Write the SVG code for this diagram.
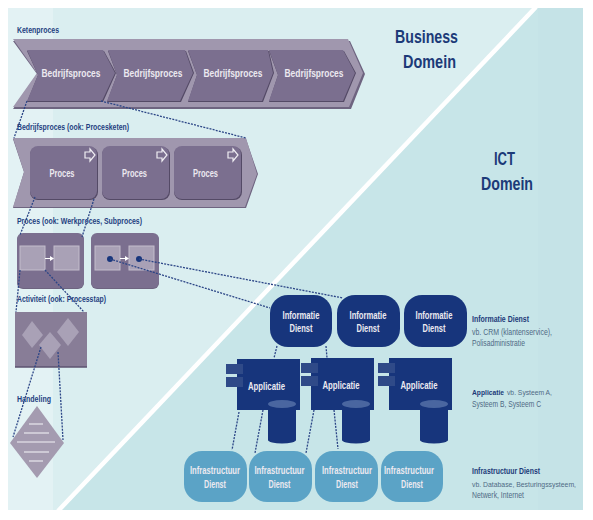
<svg xmlns="http://www.w3.org/2000/svg" width="593" height="520" viewBox="0 0 593 520">
<style>
text{font-family:"Liberation Sans",Arial,sans-serif}
.w{fill:#ece9f0;font-weight:bold;font-size:10px;text-anchor:middle}
.h{fill:#1f3f80;font-weight:bold;font-size:9px}
.d{fill:#1c3a78;font-size:18px;font-weight:bold;text-anchor:middle}
.t{fill:#1c3a78;font-weight:bold;font-size:9px}
.g{fill:#4f6a85;font-size:9px}
.band{fill:#a097ae}
.edge{fill:#6e6480}
.chev{fill:#7b6f8f}
.shade{fill:#544a66}
.card{fill:#7b6f8f}
.sq{fill:#a9a1b6;stroke:#c3bdcc;stroke-width:1}
.dia{fill:#a9a1b6}
.info{fill:#17357c}
.app{fill:#17357c}
.tab{fill:#2f4a88}
.infra{fill:#5ba3c6}
.ico{fill:none;stroke:#f0eef3;stroke-width:1.2}
.c{fill:none;stroke:#2b4586;stroke-width:1.3;stroke-dasharray:2 1.2}
.l{stroke:#d9d5df;stroke-width:1.6}
</style>
<rect width="593" height="520" fill="#fff"/>
<g id="background">
<rect x="8" y="8" width="575" height="502" fill="#c7e5e8"/>
<rect x="538" y="8" width="45" height="502" fill="#c5e3e7"/>
<polygon points="8,8 535,8 58,510 8,510" fill="#daeef0"/>
<rect x="8" y="8" width="45" height="502" fill="#e3f2f4"/>
<line x1="536" y1="7" x2="58" y2="511" stroke="#fff" stroke-width="4.5"/>
</g>
<g id="domain-labels">
<text class="d" x="426.500" y="43" textLength="63" lengthAdjust="spacingAndGlyphs">Business</text>
<text class="d" x="429.500" y="68" textLength="53" lengthAdjust="spacingAndGlyphs">Domein</text>
<text class="d" x="504.500" y="165" textLength="21" lengthAdjust="spacingAndGlyphs">ICT</text>
<text class="d" x="507" y="190" textLength="52" lengthAdjust="spacingAndGlyphs">Domein</text>
</g>
<g id="ketenproces">
<text class="h" x="17" y="33" textLength="42" lengthAdjust="spacingAndGlyphs">Ketenproces</text>
<polygon class="edge" points="13,41 350,41 365,74 351,109 13,109 37,74"/>
<polygon class="band" points="13,39 348,39 363,73 349,107 13,107 37,73"/>
<g id="bp1"><polygon class="shade" points="27,51 104,51 116,73 103,102 27,102 38,75"/><polygon class="chev" points="27,50 103,50 115,73 102,101 27,101 38,75"/><text class="w" x="71" y="77" textLength="59" lengthAdjust="spacingAndGlyphs">Bedrijfsproces</text></g>
<g id="bp2"><polygon class="shade" points="108,51 186,51 194,73 181,102 107,102 117,75"/><polygon class="chev" points="108,50 185,50 193,73 180,101 107,101 117,75"/><text class="w" x="153" y="77" textLength="59" lengthAdjust="spacingAndGlyphs">Bedrijfsproces</text></g>
<g id="bp3"><polygon class="shade" points="188,51 269,51 274,73 263,102 188,102 197,75"/><polygon class="chev" points="188,50 268,50 273,73 262,101 188,101 197,75"/><text class="w" x="233" y="77" textLength="59" lengthAdjust="spacingAndGlyphs">Bedrijfsproces</text></g>
<g id="bp4"><polygon class="shade" points="269,51 344,51 356,73 344,102 269,102 278,75"/><polygon class="chev" points="269,50 343,50 355,73 343,101 269,101 278,75"/><text class="w" x="314" y="77" textLength="59" lengthAdjust="spacingAndGlyphs">Bedrijfsproces</text></g>
</g>
<g id="bedrijfsproces">
<text class="h" x="17" y="130" textLength="112" lengthAdjust="spacingAndGlyphs">Bedrijfsproces (ook: Procesketen)</text>
<polygon class="edge" points="13,139 246,139 258,174 246,208 13,208 24,172"/>
<polygon class="band" points="13,138 246,138 257,174 245,207 13,207 24,172"/>
<g id="proces1"><rect class="shade" x="30" y="147" width="68" height="53" rx="8"/><rect class="card" x="30" y="146" width="67" height="53" rx="8"/><path class="ico" d="M85,152h5v-3l5,6l-5,6v-3h-5z"/><text class="w" x="62" y="177" textLength="25" lengthAdjust="spacingAndGlyphs">Proces</text></g>
<g id="proces2"><rect class="shade" x="102" y="147" width="68" height="53" rx="8"/><rect class="card" x="102" y="146" width="67" height="53" rx="8"/><path class="ico" d="M157,152h5v-3l5,6l-5,6v-3h-5z"/><text class="w" x="134.500" y="177" textLength="25" lengthAdjust="spacingAndGlyphs">Proces</text></g>
<g id="proces3"><rect class="shade" x="174" y="147" width="68" height="53" rx="8"/><rect class="card" x="174" y="146" width="67" height="53" rx="8"/><path class="ico" d="M228,152h5v-3l5,6l-5,6v-3h-5z"/><text class="w" x="205.500" y="177" textLength="25" lengthAdjust="spacingAndGlyphs">Proces</text></g>
</g>
<g id="werkproces">
<text class="h" x="17" y="224" textLength="125" lengthAdjust="spacingAndGlyphs">Proces (ook: Werkproces, Subproces)</text>
<g id="wp1"><rect class="edge" x="17" y="234" width="67" height="55" rx="6"/><rect class="chev" x="17" y="233" width="67" height="55" rx="6"/><rect class="sq" x="20" y="246" width="25" height="24"/><rect class="sq" x="54" y="246" width="25" height="24"/><path d="M45,258h5v-2l4,2.500l-4,2.500v-2h-5z" fill="#fff"/></g>
<g id="wp2"><rect class="edge" x="91" y="234" width="68" height="55" rx="6"/><rect class="chev" x="91" y="233" width="68" height="55" rx="6"/><rect class="sq" x="95" y="246" width="25" height="24"/><rect class="sq" x="129" y="246" width="25" height="24"/><path d="M120,258h5v-2l4,2.500l-4,2.500v-2h-5z" fill="#fff"/><circle cx="110" cy="259" r="3" fill="#17357c"/><circle cx="139" cy="259" r="3" fill="#17357c"/></g>
</g>
<g id="activiteit">
<text class="h" x="17" y="302" textLength="89" lengthAdjust="spacingAndGlyphs">Activiteit (ook: Processtap)</text>
<rect x="15" y="312" width="72" height="55" fill="#887d97"/>
<line x1="15" y1="367" x2="87" y2="367" stroke="#5d5370" stroke-width="1.500"/>
<polygon class="dia" points="32,321 43,335 32,348 22,335"/>
<polygon class="dia" points="50,332 61,345 50,359 39,345"/>
<polygon class="dia" points="68,318 79,332 68,346 57,332"/>
</g>
<g id="handeling">
<text class="h" x="17" y="402" textLength="34" lengthAdjust="spacingAndGlyphs">Handeling</text>
<polygon points="37,406 64,443 37,478 10,443" fill="#a49bb0"/>
<g class="l"><line x1="29" y1="424" x2="43" y2="424"/><line x1="24" y1="433" x2="49" y2="433"/><line x1="17" y1="442" x2="55" y2="442"/><line x1="24" y1="452" x2="49" y2="452"/><line x1="29" y1="461" x2="43" y2="461"/></g>
</g>
<g id="informatie">
<g id="info1"><rect class="info" x="270" y="295" width="62" height="52" rx="18"/><text class="w" x="301" y="319" textLength="37" lengthAdjust="spacingAndGlyphs">Informatie</text><text class="w" x="301" y="332" textLength="23" lengthAdjust="spacingAndGlyphs">Dienst</text></g>
<g id="info2"><rect class="info" x="337" y="295" width="63" height="52" rx="18"/><text class="w" x="368" y="319" textLength="37" lengthAdjust="spacingAndGlyphs">Informatie</text><text class="w" x="368" y="332" textLength="23" lengthAdjust="spacingAndGlyphs">Dienst</text></g>
<g id="info3"><rect class="info" x="404" y="295" width="63" height="52" rx="18"/><text class="w" x="434" y="319" textLength="37" lengthAdjust="spacingAndGlyphs">Informatie</text><text class="w" x="434" y="332" textLength="23" lengthAdjust="spacingAndGlyphs">Dienst</text></g>
</g>
<g id="applicatie">
<g id="app1"><rect class="app" x="237" y="359" width="63" height="51"/><rect class="tab" x="226" y="364" width="17" height="10"/><rect class="tab" x="226" y="377" width="17" height="10"/><path class="app" d="M268,404v36a14,3.500 0 0 0 28,0v-36z"/><ellipse cx="282" cy="404" rx="14" ry="4" fill="#4a66a0"/><text class="w" x="266.500" y="390" textLength="37" lengthAdjust="spacingAndGlyphs">Applicatie</text></g>
<g id="app2"><rect class="app" x="311" y="358" width="63" height="52"/><rect class="tab" x="301" y="363" width="17" height="10"/><rect class="tab" x="301" y="376" width="17" height="10"/><path class="app" d="M342,404v36a14,3.500 0 0 0 28,0v-36z"/><ellipse cx="356" cy="404" rx="14" ry="4" fill="#4a66a0"/><text class="w" x="341" y="389" textLength="37" lengthAdjust="spacingAndGlyphs">Applicatie</text></g>
<g id="app3"><rect class="app" x="389" y="358" width="63" height="52"/><rect class="tab" x="378" y="363" width="17" height="10"/><rect class="tab" x="378" y="376" width="17" height="10"/><path class="app" d="M420,404v36a14,3.500 0 0 0 28,0v-36z"/><ellipse cx="434" cy="404" rx="14" ry="4" fill="#4a66a0"/><text class="w" x="419" y="389" textLength="37" lengthAdjust="spacingAndGlyphs">Applicatie</text></g>
</g>
<g id="infrastructuur">
<g id="inf1"><rect class="infra" x="184" y="451" width="63" height="51" rx="18"/><text class="w" x="215" y="474" textLength="50" lengthAdjust="spacingAndGlyphs">Infrastructuur</text><text class="w" x="215" y="488" textLength="22" lengthAdjust="spacingAndGlyphs">Dienst</text></g>
<g id="inf2"><rect class="infra" x="249" y="451" width="63" height="51" rx="18"/><text class="w" x="279.500" y="474" textLength="50" lengthAdjust="spacingAndGlyphs">Infrastructuur</text><text class="w" x="279.500" y="488" textLength="22" lengthAdjust="spacingAndGlyphs">Dienst</text></g>
<g id="inf3"><rect class="infra" x="315" y="451" width="63" height="51" rx="18"/><text class="w" x="347" y="474" textLength="50" lengthAdjust="spacingAndGlyphs">Infrastructuur</text><text class="w" x="347" y="488" textLength="22" lengthAdjust="spacingAndGlyphs">Dienst</text></g>
<g id="inf4"><rect class="infra" x="381" y="451" width="62" height="51" rx="18"/><text class="w" x="409" y="474" textLength="50" lengthAdjust="spacingAndGlyphs">Infrastructuur</text><text class="w" x="412" y="488" textLength="22" lengthAdjust="spacingAndGlyphs">Dienst</text></g>
</g>
<g id="legend">
<text class="t" x="472" y="322" textLength="57" lengthAdjust="spacingAndGlyphs">Informatie Dienst</text>
<text class="g" x="472" y="335" textLength="80" lengthAdjust="spacingAndGlyphs">vb. CRM (klantenservice),</text>
<text class="g" x="472" y="346" textLength="53" lengthAdjust="spacingAndGlyphs">Polisadministratie</text>
<text class="t" x="472" y="395" font-size="8" style="font-size:8px" textLength="32" lengthAdjust="spacingAndGlyphs">Applicatie</text>
<text class="g" x="507" y="395" style="font-size:7px" textLength="45" lengthAdjust="spacingAndGlyphs">vb. Systeem A,</text>
<text class="g" x="472" y="407" textLength="69" lengthAdjust="spacingAndGlyphs">Systeem B, Systeem C</text>
<text class="t" x="472" y="474" textLength="68" lengthAdjust="spacingAndGlyphs">Infrastructuur Dienst</text>
<text class="g" x="472" y="487" style="font-size:8px" textLength="104" lengthAdjust="spacingAndGlyphs">vb. Database, Besturingssysteem,</text>
<text class="g" x="472" y="498" textLength="52" lengthAdjust="spacingAndGlyphs">Netwerk, Internet</text>
</g>
<g id="connectors">
<line class="c" x1="27" y1="101" x2="14" y2="138"/>
<line class="c" x1="101" y1="101" x2="246" y2="138"/>
<line class="c" x1="35" y1="197" x2="20" y2="235"/>
<line class="c" x1="94" y1="199" x2="82" y2="237"/>
<line class="c" x1="20" y1="270" x2="16" y2="312"/>
<line class="c" x1="45" y1="270" x2="84" y2="312"/>
<line class="c" x1="41" y1="347" x2="13" y2="437"/>
<line class="c" x1="58" y1="352" x2="63" y2="440"/>
<line class="c" x1="110" y1="259" x2="270" y2="308"/>
<line class="c" x1="139" y1="259" x2="343" y2="298"/>
<line class="c" x1="277" y1="346" x2="274" y2="358"/>
<line class="c" x1="326" y1="346" x2="327" y2="358"/>
<line class="c" x1="239" y1="412" x2="232" y2="450"/>
<line class="c" x1="263" y1="410" x2="255" y2="453"/>
<line class="c" x1="314" y1="410" x2="306" y2="453"/>
<line class="c" x1="334" y1="410" x2="338" y2="449"/>
</g>
</svg>
